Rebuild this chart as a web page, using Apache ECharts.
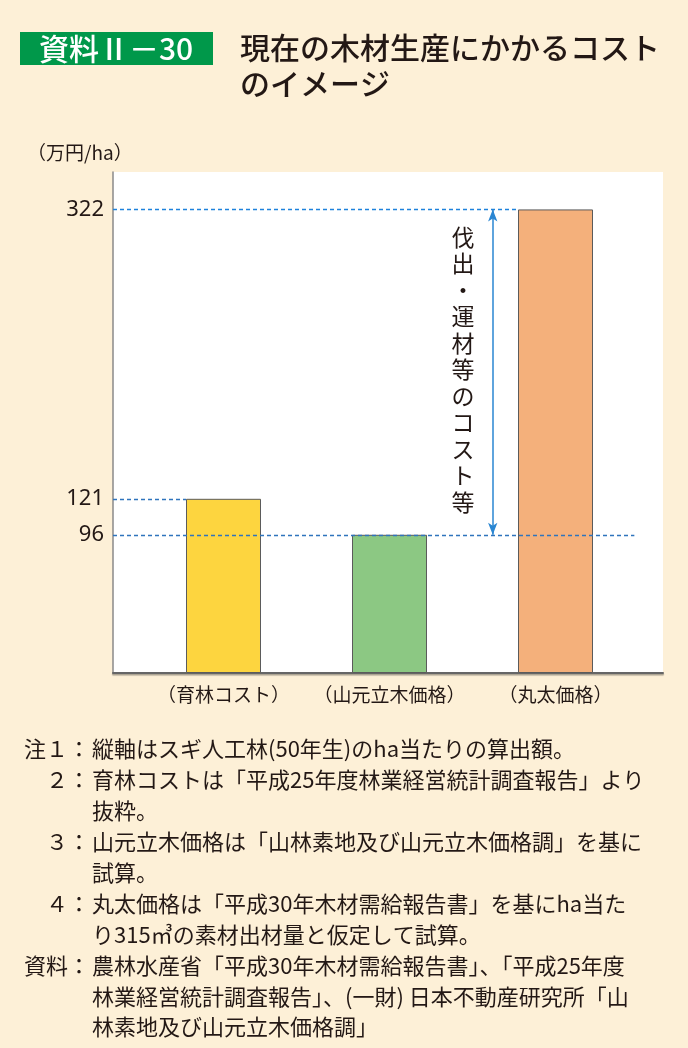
<!DOCTYPE html>
<html><head><meta charset="utf-8">
<script src="https://cdn.jsdelivr.net/npm/echarts@6/dist/echarts.min.js"></script>
<style>html,body{margin:0;padding:0;background:#fdf0d7;} #c{width:688px;height:1048px;}</style>
</head><body><div id="c"></div>
<script>
// ---- data ----
const categories = ['（育林コスト）', '（山元立木価格）', '（丸太価格）'];
const values = [121, 96, 322];
const tickValues = [96, 121, 322];
const barColors = ['#fdd53f', '#8cc883', '#f4b07b'];
const unitLabel = '（万円/ha）';
const annotation = '伐出・運材等のコスト等';
const titleTag = '資料Ⅱ－30';
const titleLines = ['現在の木材生産にかかるコスト', 'のイメージ'];
const notePrefixes = ['注１：', '２：', '', '３：', '', '４：', '', '資料：', '', ''];
const noteBodies = [
  '縦軸はスギ人工林(50年生)のha当たりの算出額。',
  '育林コストは「平成25年度林業経営統計調査報告」より',
  '抜粋。',
  '山元立木価格は「山林素地及び山元立木価格調」を基に',
  '試算。',
  '丸太価格は「平成30年木材需給報告書」を基にha当た',
  'り315㎥の素材出材量と仮定して試算。',
  '農林水産省「平成30年木材需給報告書」、「平成25年度',
  '林業経営統計調査報告」、(一財) 日本不動産研究所「山',
  '林素地及び山元立木価格調」'
];

// ---- layout ----
const FAM = 'Noto Sans CJK JP';
const NUM = 'Noto Sans';
const TXT = '#231815';
const plotL = 113, plotT = 172, plotW = 550, plotH = 501;
const bandL = 140.5, bandW = 498;          // category band area
const band = bandW / categories.length;     // px per category
const c0 = bandL + band / 2;                // first category centre
const xMin = (plotL - c0) / band, xMax = (plotL + plotW - c0) / band;
const yMax = 348;
const barW = 75;
const half = barW / 2 / band;
const iTop = values.indexOf(Math.max(...values));
const iFirst = 0;
const dashed1 = '#1e82dc', dashed2 = '#2f74bd', arrowC = '#2a86d2';

const graphics = [
  { type: 'rect', shape: { x: 20, y: 32, width: 193, height: 33 }, style: { fill: '#00984a' } },
  { type: 'text', x: 116, y: 49, style: { text: titleTag, fill: '#fff', fontFamily: FAM, fontSize: 30, fontWeight: 500, textAlign: 'center', textVerticalAlign: 'middle' } },
  { type: 'text', x: 240, y: 48, style: { text: titleLines[0], fill: TXT, fontFamily: FAM, fontSize: 30, fontWeight: 500, textVerticalAlign: 'middle' } },
  { type: 'text', x: 240, y: 84, style: { text: titleLines[1], fill: TXT, fontFamily: FAM, fontSize: 30, fontWeight: 500, textVerticalAlign: 'middle' } },
  { type: 'text', x: 27, y: 153, style: { text: unitLabel, fill: TXT, fontFamily: FAM, fontSize: 19, textVerticalAlign: 'middle' } },
  { type: 'text', x: 463, y: 224, style: { text: annotation.split('').join('\n'), fill: TXT, fontFamily: FAM, fontSize: 23, textAlign: 'center', lineHeight: 26.5 } }
];
notePrefixes.forEach((p, i) => {
  const y = 749 + i * 30.9;
  if (p) graphics.push({ type: 'text', x: 90, y, style: { text: p, fill: TXT, fontFamily: FAM, fontSize: 22, textAlign: 'right', textVerticalAlign: 'middle' } });
  graphics.push({ type: 'text', x: 92, y, style: { text: noteBodies[i], fill: TXT, fontFamily: FAM, fontSize: 22, textVerticalAlign: 'middle' } });
});

const dash = (a, b, y, color) => [
  { coord: [a, y], lineStyle: { color, type: [4, 3], width: 1.4 } },
  { coord: [b, y], lineStyle: { color, type: [4, 3], width: 1.4 } }
];

const chart = echarts.init(document.getElementById('c'));
chart.setOption({
  backgroundColor: '#fdf0d7',
  animation: false,
  textStyle: { fontFamily: FAM },
  grid: [
    { left: plotL, top: plotT, width: plotW, height: plotH, show: true, backgroundColor: '#fff', borderWidth: 0 },
    { left: bandL, top: plotT, width: bandW, height: plotH }
  ],
  xAxis: [
    { gridIndex: 0, type: 'value', min: xMin, max: xMax,
      axisLine: { show: true, onZero: false, lineStyle: { color: '#666', width: 2, shadowColor: 'rgba(0,0,0,0.35)', shadowOffsetY: 1.5, shadowBlur: 1 } },
      axisTick: { show: false }, axisLabel: { show: false }, splitLine: { show: false } },
    { gridIndex: 1, type: 'category', data: categories,
      axisLine: { show: false }, axisTick: { show: false },
      axisLabel: { color: TXT, fontSize: 19, margin: 12, fontFamily: FAM, interval: 0, hideOverlap: false } }
  ],
  yAxis: [
    { gridIndex: 0, type: 'value', min: 0, max: yMax,
      axisLine: { show: true, onZero: false, lineStyle: { color: '#8a8a8a', width: 1.5 } },
      axisTick: { show: false }, splitLine: { show: false },
      axisLabel: { customValues: tickValues, color: TXT, fontSize: 22, margin: 9, fontFamily: NUM } },
    { gridIndex: 1, type: 'value', min: 0, max: yMax, show: false }
  ],
  graphic: graphics,
  series: [{
    type: 'bar', xAxisIndex: 0, yAxisIndex: 0, barWidth: barW,
    data: values.map((v, i) => ({ value: [i, v], itemStyle: { color: barColors[i] } })),
    itemStyle: { borderColor: '#5b5b5b', borderWidth: 1 },
    markLine: {
      silent: true, symbol: 'none', label: { show: false },
      lineStyle: { color: dashed2, type: [4, 3], width: 1.4, opacity: 1 },
      emphasis: { disabled: true },
      data: [
        dash(xMin, iTop - half, values[iTop], dashed1),
        dash(xMin, iFirst - half, values[iFirst], dashed2),
        dash(xMin, 2.475, values[1], dashed2),
        [
          { coord: [1.622, values[1]], symbol: 'arrow', symbolSize: [7, 12], lineStyle: { color: arrowC, width: 1.5, type: 'solid' } },
          { coord: [1.622, values[iTop]], symbol: 'arrow', symbolSize: [7, 12], lineStyle: { color: arrowC, width: 1.5, type: 'solid' } }
        ]
      ]
    }
  }]
});
</script></body></html>
